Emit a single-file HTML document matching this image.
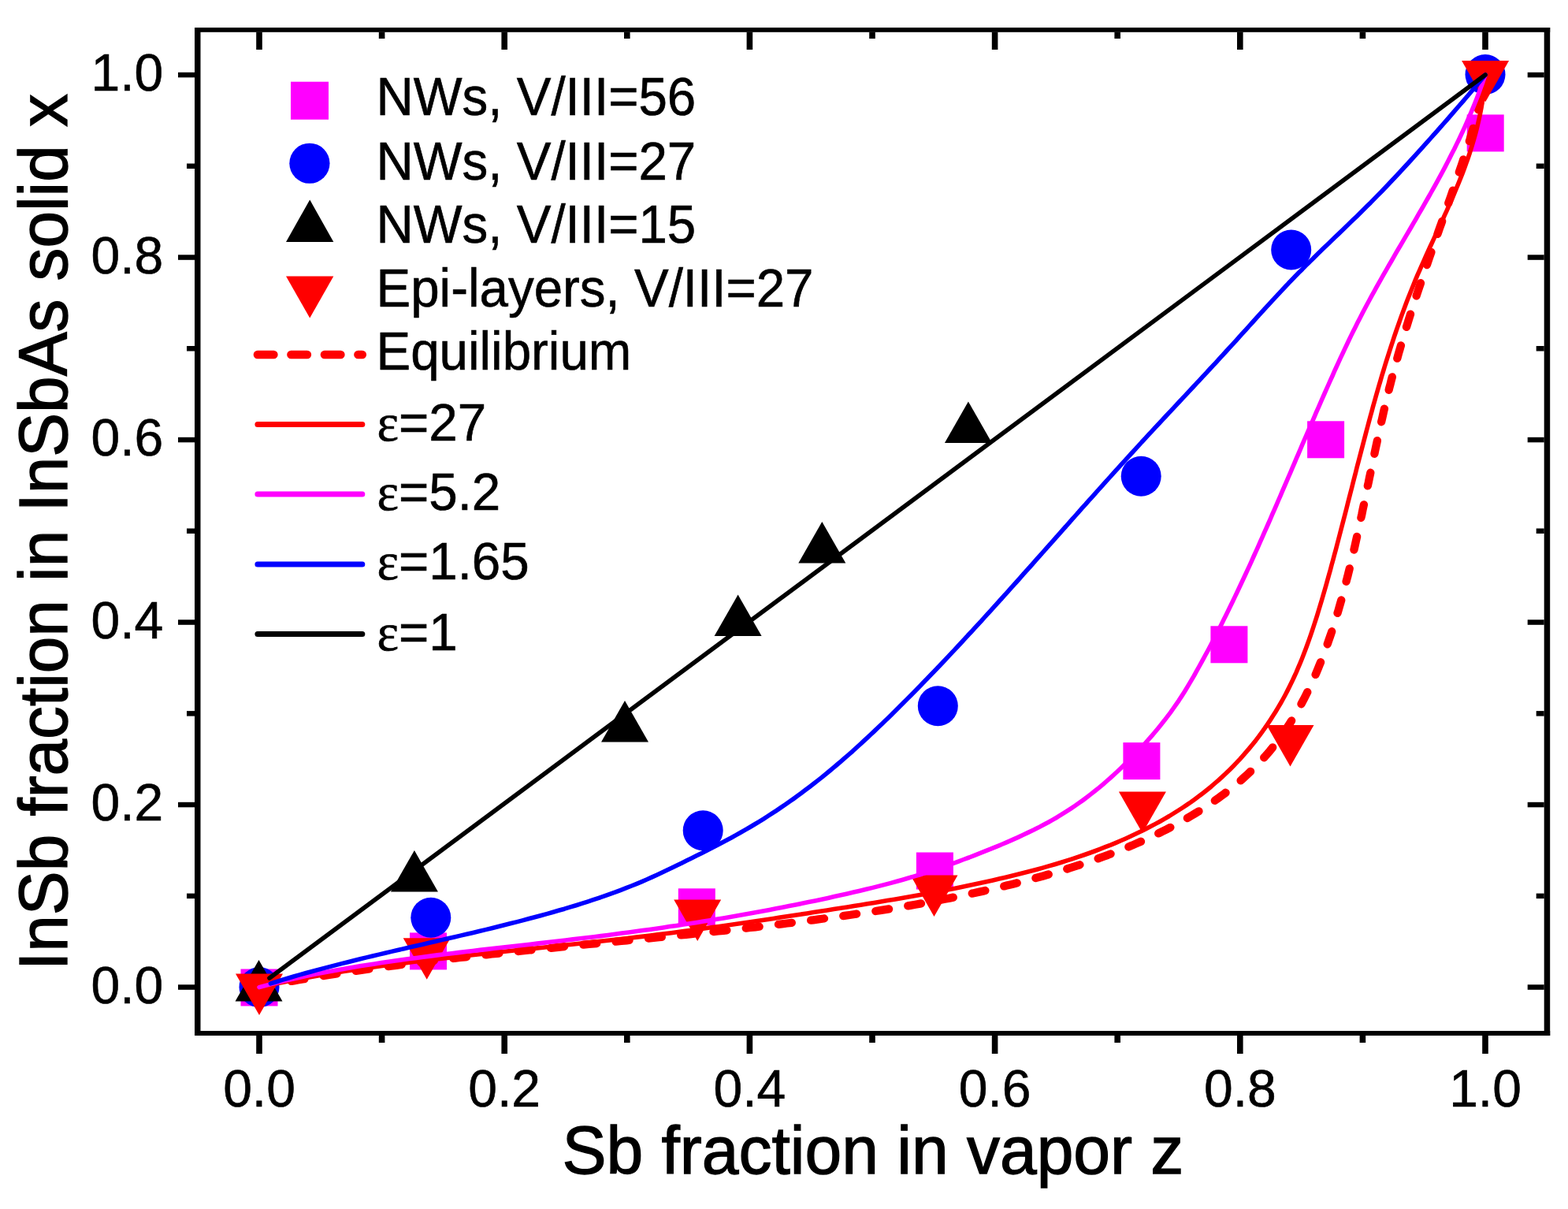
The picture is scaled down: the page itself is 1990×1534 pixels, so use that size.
<!DOCTYPE html><html><head><meta charset="utf-8"><style>html,body{margin:0;padding:0;background:#fff;}svg{display:block}</style></head><body>
<svg width="1990" height="1534" viewBox="0 0 1990 1534">
<rect width="1990" height="1534" fill="#fff"/>
<rect x="305.5" y="1229.5" width="47.0" height="47.0" fill="#ff00ff"/>
<rect x="520.0" y="1183.4" width="47.0" height="47.0" fill="#ff00ff"/>
<rect x="860.8" y="1127.3" width="47.0" height="47.0" fill="#ff00ff"/>
<rect x="1162.9" y="1081.5" width="47.0" height="47.0" fill="#ff00ff"/>
<rect x="1425.4" y="942.1" width="47.0" height="47.0" fill="#ff00ff"/>
<rect x="1536.4" y="794.3" width="47.0" height="47.0" fill="#ff00ff"/>
<rect x="1659.1" y="534.3" width="47.0" height="47.0" fill="#ff00ff"/>
<rect x="1861.7" y="145.4" width="47.0" height="47.0" fill="#ff00ff"/>
<circle cx="329.0" cy="1252.6" r="25.5" fill="#0000ff"/>
<circle cx="546.8" cy="1164.2" r="25.5" fill="#0000ff"/>
<circle cx="892.2" cy="1053.8" r="25.5" fill="#0000ff"/>
<circle cx="1190.3" cy="895.8" r="25.5" fill="#0000ff"/>
<circle cx="1448.2" cy="604.2" r="25.5" fill="#0000ff"/>
<circle cx="1638.7" cy="317.0" r="25.5" fill="#0000ff"/>
<circle cx="1885.0" cy="94.5" r="25.5" fill="#0000ff"/>
<path d="M328.5 1218.0 L358.5 1270.5 L298.5 1270.5 Z" fill="#000"/>
<path d="M525.9 1079.0 L555.9 1131.5 L495.9 1131.5 Z" fill="#000"/>
<path d="M793.0 889.0 L823.0 941.5 L763.0 941.5 Z" fill="#000"/>
<path d="M936.6 754.6 L966.6 807.1 L906.6 807.1 Z" fill="#000"/>
<path d="M1043.3 661.9 L1073.3 714.4 L1013.3 714.4 Z" fill="#000"/>
<path d="M1228.9 509.5 L1258.9 562.0 L1198.9 562.0 Z" fill="#000"/>
<path d="M299.0 1235.4 L359.0 1235.4 L329.0 1287.9 Z" fill="#ff0000"/>
<path d="M511.7 1190.2 L571.7 1190.2 L541.7 1242.7 Z" fill="#ff0000"/>
<path d="M855.2 1141.6 L915.2 1141.6 L885.2 1194.1 Z" fill="#ff0000"/>
<path d="M1155.5 1110.4 L1215.5 1110.4 L1185.5 1162.9 Z" fill="#ff0000"/>
<path d="M1419.9 1004.5 L1479.9 1004.5 L1449.9 1057.0 Z" fill="#ff0000"/>
<path d="M1607.5 920.1 L1667.5 920.1 L1637.5 972.6 Z" fill="#ff0000"/>
<path d="M1855.1 77.1 L1915.1 77.1 L1885.1 129.6 Z" fill="#ff0000"/>
<g fill="none" stroke-linecap="round" stroke-linejoin="round">
<path d="M329.0 1252.6 L335.2 1251.4 L341.5 1250.2 L347.7 1249.0 L354.0 1247.8 L360.3 1246.7 L366.6 1245.5 L373.0 1244.4 L379.3 1243.3 L385.7 1242.2 L392.1 1241.1 L398.5 1240.1 L404.9 1239.0 L411.4 1238.0 L417.8 1237.0 L424.3 1236.0 L430.8 1235.0 L437.3 1234.0 L443.8 1233.0 L450.3 1232.0 L456.9 1231.1 L463.5 1230.2 L470.0 1229.2 L476.6 1228.3 L483.2 1227.4 L489.8 1226.5 L496.4 1225.6 L503.1 1224.8 L509.7 1223.9 L516.4 1223.1 L523.1 1222.2 L529.7 1221.4 L536.4 1220.6 L543.1 1219.7 L549.8 1218.9 L556.6 1218.1 L563.3 1217.3 L570.0 1216.6 L576.8 1215.8 L583.5 1215.0 L590.3 1214.3 L597.1 1213.5 L603.9 1212.8 L610.6 1212.0 L617.4 1211.3 L624.2 1210.5 L631.0 1209.8 L637.8 1209.1 L644.7 1208.4 L651.5 1207.7 L658.3 1207.0 L665.1 1206.2 L672.0 1205.5 L678.8 1204.9 L685.7 1204.2 L692.5 1203.5 L699.4 1202.8 L706.2 1202.1 L713.1 1201.4 L719.9 1200.7 L726.8 1200.1 L733.6 1199.4 L740.5 1198.7 L747.4 1198.0 L754.2 1197.4 L761.1 1196.7 L767.9 1196.0 L774.8 1195.3 L781.7 1194.7 L788.5 1194.0 L795.4 1193.3 L802.2 1192.6 L809.1 1192.0 L815.9 1191.3 L822.8 1190.6 L829.6 1189.9 L836.5 1189.2 L843.3 1188.6 L850.2 1187.9 L857.0 1187.2 L863.8 1186.5 L870.7 1185.8 L877.5 1185.1 L884.3 1184.4 L891.1 1183.7 L897.9 1182.9 L904.7 1182.2 L911.5 1181.5 L918.3 1180.8 L925.0 1180.0 L931.8 1179.3 L938.6 1178.5 L945.3 1177.8 L952.1 1177.0 L958.8 1176.3 L965.5 1175.5 L972.2 1174.7 L979.0 1173.9 L985.6 1173.1 L992.3 1172.3 L999.0 1171.5 L1005.7 1170.7 L1012.3 1169.8 L1019.0 1169.0 L1025.6 1168.2 L1032.2 1167.3 L1038.8 1166.4 L1045.4 1165.5 L1052.0 1164.7 L1058.6 1163.8 L1065.1 1162.8 L1071.7 1161.9 L1078.2 1161.0 L1084.7 1160.0 L1091.2 1159.1 L1097.7 1158.1 L1104.1 1157.1 L1110.6 1156.1 L1117.0 1155.1 L1123.4 1154.1 L1129.8 1153.1 L1136.2 1152.0 L1142.6 1151.0 L1148.9 1149.9 L1155.3 1148.8 L1161.6 1147.7 L1167.9 1146.6 L1174.1 1145.5 L1180.4 1144.3 L1186.6 1143.1 L1192.9 1142.0 L1199.1 1140.8 L1205.2 1139.6 L1211.4 1138.3 L1217.5 1137.1 L1223.6 1135.8 L1229.7 1134.5 L1235.8 1133.2 L1241.8 1131.9 L1247.9 1130.6 L1253.9 1129.2 L1259.8 1127.9 L1265.8 1126.5 L1271.7 1125.1 L1277.6 1123.6 L1283.5 1122.2 L1289.4 1120.7 L1295.2 1119.2 L1301.0 1117.7 L1306.8 1116.2 L1312.5 1114.6 L1318.3 1113.1 L1324.0 1111.5 L1329.6 1109.8 L1335.3 1108.2 L1340.9 1106.5 L1346.5 1104.9 L1352.1 1103.2 L1357.6 1101.4 L1363.1 1099.7 L1368.6 1097.9 L1374.0 1096.1 L1379.5 1094.3 L1384.8 1092.4 L1390.2 1090.6 L1395.5 1088.7 L1400.8 1086.7 L1406.1 1084.8 L1411.3 1082.8 L1416.5 1080.8 L1421.6 1078.8 L1426.7 1076.7 L1431.8 1074.7 L1436.9 1072.6 L1441.9 1070.4 L1446.8 1068.3 L1451.8 1066.1 L1456.7 1063.9 L1461.5 1061.6 L1466.3 1059.3 L1471.1 1057.0 L1475.8 1054.7 L1480.5 1052.3 L1485.2 1049.9 L1489.8 1047.5 L1494.4 1045.1 L1498.9 1042.6 L1503.4 1040.0 L1507.8 1037.5 L1512.2 1034.9 L1516.6 1032.3 L1520.9 1029.7 L1525.1 1027.0 L1529.3 1024.3 L1533.5 1021.5 L1537.6 1018.8 L1541.6 1015.9 L1545.7 1013.1 L1549.6 1010.2 L1553.5 1007.3 L1557.4 1004.4 L1561.2 1001.4 L1565.0 998.4 L1568.7 995.3 L1572.4 992.2 L1576.0 989.1 L1579.5 985.9 L1583.0 982.7 L1586.4 979.5 L1589.8 976.2 L1593.2 972.9 L1596.4 969.6 L1599.7 966.2 L1602.8 962.8 L1605.9 959.3 L1609.0 955.8 L1612.0 952.3 L1614.9 948.7 L1617.8 945.1 L1620.6 941.4 L1623.4 937.7 L1626.1 934.0 L1628.8 930.2 L1631.4 926.4 L1633.9 922.6 L1636.5 918.7 L1638.9 914.8 L1641.4 910.9 L1643.7 906.9 L1646.1 902.9 L1648.4 898.9 L1650.6 894.9 L1652.8 890.8 L1655.0 886.6 L1657.1 882.5 L1659.2 878.3 L1661.3 874.1 L1663.3 869.9 L1665.2 865.6 L1667.2 861.3 L1669.1 857.0 L1671.0 852.6 L1672.8 848.2 L1674.6 843.8 L1676.4 839.4 L1678.1 835.0 L1679.8 830.5 L1681.5 826.0 L1683.2 821.4 L1684.8 816.9 L1686.4 812.3 L1688.0 807.7 L1689.6 803.1 L1691.1 798.5 L1692.6 793.8 L1694.1 789.1 L1695.5 784.5 L1696.9 779.7 L1698.4 775.0 L1699.7 770.3 L1701.1 765.5 L1702.5 760.7 L1703.8 755.9 L1705.1 751.1 L1706.4 746.3 L1707.7 741.4 L1708.9 736.5 L1710.2 731.7 L1711.4 726.8 L1712.6 721.9 L1713.8 717.0 L1715.0 712.0 L1716.2 707.1 L1717.3 702.2 L1718.5 697.2 L1719.6 692.3 L1720.7 687.3 L1721.8 682.3 L1723.0 677.3 L1724.0 672.3 L1725.1 667.3 L1726.2 662.3 L1727.3 657.3 L1728.4 652.3 L1729.4 647.2 L1730.5 642.2 L1731.6 637.2 L1732.6 632.2 L1733.7 627.1 L1734.7 622.1 L1735.7 617.0 L1736.8 612.0 L1737.8 606.9 L1738.9 601.9 L1739.9 596.9 L1741.0 591.8 L1742.0 586.8 L1743.1 581.7 L1744.2 576.7 L1745.2 571.7 L1746.3 566.7 L1747.4 561.6 L1748.4 556.6 L1749.5 551.6 L1750.6 546.6 L1751.7 541.6 L1752.8 536.6 L1754.0 531.6 L1755.1 526.6 L1756.2 521.7 L1757.4 516.7 L1758.5 511.8 L1759.7 506.8 L1760.9 501.9 L1762.1 497.0 L1763.3 492.1 L1764.6 487.2 L1765.8 482.3 L1767.1 477.4 L1768.4 472.5 L1769.7 467.7 L1771.0 462.9 L1772.3 458.0 L1773.7 453.2 L1775.0 448.4 L1776.4 443.7 L1777.8 438.9 L1779.2 434.1 L1780.6 429.3 L1782.0 424.6 L1783.5 419.9 L1784.9 415.1 L1786.4 410.4 L1787.8 405.7 L1789.3 401.0 L1790.8 396.3 L1792.3 391.6 L1793.8 386.9 L1795.3 382.2 L1796.9 377.5 L1798.4 372.9 L1800.0 368.2 L1801.5 363.6 L1803.1 358.9 L1804.6 354.2 L1806.2 349.6 L1807.8 345.0 L1809.4 340.3 L1811.0 335.7 L1812.6 331.0 L1814.2 326.4 L1815.8 321.8 L1817.4 317.2 L1819.0 312.5 L1820.6 307.9 L1822.3 303.3 L1823.9 298.6 L1825.5 294.0 L1827.1 289.4 L1828.8 284.8 L1830.4 280.1 L1832.0 275.5 L1833.7 270.9 L1835.3 266.2 L1836.9 261.6 L1838.5 257.0 L1840.2 252.3 L1841.8 247.7 L1843.4 243.0 L1845.0 238.4 L1846.6 233.7 L1848.2 229.0 L1849.8 224.4 L1851.4 219.7 L1853.0 215.0 L1854.6 210.3 L1856.2 205.6 L1857.7 200.9 L1859.3 196.2 L1860.8 191.5 L1862.4 186.8 L1863.9 182.0 L1865.4 177.3 L1866.8 172.5 L1868.2 167.8 L1869.7 163.0 L1871.0 158.2 L1872.4 153.4 L1873.7 148.6 L1874.9 143.8 L1876.2 139.0 L1877.4 134.2 L1878.5 129.3 L1879.6 124.4 L1880.6 119.6 L1881.6 114.7 L1882.5 109.8 L1883.4 104.9 L1884.2 99.9 L1885.0 95.0" stroke="#ff0000" stroke-width="10.3" stroke-dasharray="17 24.5"/>
<path d="M329.0 1252.6 L336.8 1250.9 L344.8 1249.2 L352.8 1247.5 L360.8 1245.9 L369.0 1244.3 L377.1 1242.7 L385.4 1241.2 L393.7 1239.7 L402.1 1238.2 L410.5 1236.8 L419.0 1235.4 L427.5 1234.0 L436.1 1232.6 L444.8 1231.3 L453.4 1230.0 L462.2 1228.8 L470.9 1227.5 L479.7 1226.3 L488.6 1225.1 L497.5 1223.9 L506.4 1222.7 L515.4 1221.6 L524.3 1220.5 L533.4 1219.4 L542.4 1218.3 L551.5 1217.2 L560.6 1216.1 L569.7 1215.1 L578.8 1214.0 L587.9 1213.0 L597.1 1212.0 L606.3 1211.0 L615.5 1210.0 L624.7 1209.0 L633.9 1208.0 L643.1 1207.0 L652.3 1206.0 L661.5 1205.1 L670.7 1204.1 L679.9 1203.1 L689.1 1202.2 L698.3 1201.2 L707.5 1200.2 L716.7 1199.2 L725.9 1198.3 L735.1 1197.3 L744.2 1196.3 L753.3 1195.3 L762.4 1194.3 L771.5 1193.3 L780.6 1192.3 L789.6 1191.2 L798.6 1190.2 L807.6 1189.1 L816.5 1188.1 L825.4 1187.0 L834.3 1185.9 L843.1 1184.8 L851.9 1183.7 L860.7 1182.5 L869.5 1181.4 L878.2 1180.2 L886.9 1179.0 L895.6 1177.8 L904.3 1176.6 L912.9 1175.4 L921.5 1174.2 L930.1 1173.0 L938.7 1171.7 L947.3 1170.5 L955.9 1169.2 L964.4 1168.0 L973.0 1166.7 L981.5 1165.4 L990.0 1164.1 L998.6 1162.8 L1007.1 1161.5 L1015.6 1160.2 L1024.1 1158.9 L1032.6 1157.6 L1041.1 1156.2 L1049.7 1154.9 L1058.2 1153.6 L1066.7 1152.2 L1075.3 1150.9 L1083.8 1149.5 L1092.3 1148.2 L1100.8 1146.8 L1109.4 1145.4 L1117.9 1144.0 L1126.4 1142.6 L1134.9 1141.2 L1143.4 1139.7 L1151.9 1138.2 L1160.3 1136.8 L1168.8 1135.2 L1177.2 1133.7 L1185.6 1132.2 L1194.0 1130.6 L1202.3 1129.0 L1210.7 1127.4 L1219.0 1125.7 L1227.2 1124.0 L1235.5 1122.3 L1243.7 1120.6 L1251.9 1118.8 L1260.0 1117.0 L1268.1 1115.1 L1276.2 1113.2 L1284.2 1111.3 L1292.2 1109.3 L1300.1 1107.3 L1307.9 1105.3 L1315.7 1103.2 L1323.4 1101.1 L1331.0 1098.9 L1338.6 1096.7 L1346.0 1094.5 L1353.4 1092.2 L1360.7 1089.8 L1368.0 1087.4 L1375.1 1085.0 L1382.2 1082.5 L1389.1 1080.0 L1396.0 1077.4 L1402.8 1074.7 L1409.6 1072.1 L1416.2 1069.3 L1422.8 1066.5 L1429.2 1063.7 L1435.6 1060.8 L1441.9 1057.8 L1448.2 1054.8 L1454.3 1051.7 L1460.4 1048.6 L1466.4 1045.4 L1472.3 1042.2 L1478.1 1038.9 L1483.9 1035.5 L1489.5 1032.0 L1495.1 1028.5 L1500.6 1025.0 L1506.0 1021.4 L1511.4 1017.7 L1516.6 1013.9 L1521.8 1010.1 L1526.9 1006.2 L1531.9 1002.2 L1536.9 998.2 L1541.7 994.0 L1546.5 989.9 L1551.2 985.6 L1555.8 981.3 L1560.3 976.9 L1564.8 972.4 L1569.2 967.9 L1573.5 963.3 L1577.7 958.6 L1581.8 953.9 L1585.9 949.1 L1589.9 944.3 L1593.8 939.4 L1597.6 934.4 L1601.3 929.3 L1605.0 924.2 L1608.5 919.1 L1612.0 913.9 L1615.4 908.6 L1618.8 903.3 L1622.0 897.9 L1625.2 892.5 L1628.3 887.0 L1631.3 881.5 L1634.2 875.9 L1637.0 870.2 L1639.8 864.6 L1642.5 858.8 L1645.1 853.1 L1647.6 847.2 L1650.1 841.4 L1652.5 835.5 L1654.8 829.5 L1657.1 823.5 L1659.3 817.5 L1661.5 811.4 L1663.6 805.3 L1665.7 799.2 L1667.7 793.0 L1669.7 786.8 L1671.7 780.6 L1673.6 774.3 L1675.5 768.0 L1677.4 761.7 L1679.2 755.4 L1681.1 749.0 L1682.9 742.7 L1684.7 736.2 L1686.5 729.8 L1688.3 723.4 L1690.0 716.9 L1691.8 710.4 L1693.5 704.0 L1695.3 697.5 L1697.0 690.9 L1698.7 684.4 L1700.4 677.9 L1702.1 671.3 L1703.8 664.8 L1705.5 658.2 L1707.2 651.7 L1708.9 645.1 L1710.5 638.6 L1712.2 632.0 L1713.9 625.4 L1715.6 618.9 L1717.2 612.3 L1718.9 605.8 L1720.6 599.3 L1722.2 592.7 L1723.9 586.2 L1725.6 579.7 L1727.3 573.2 L1729.0 566.7 L1730.7 560.2 L1732.4 553.8 L1734.1 547.3 L1735.8 540.9 L1737.5 534.5 L1739.2 528.1 L1741.0 521.7 L1742.7 515.3 L1744.5 508.9 L1746.3 502.6 L1748.1 496.2 L1749.9 489.9 L1751.8 483.6 L1753.6 477.3 L1755.5 471.1 L1757.4 464.8 L1759.3 458.6 L1761.3 452.3 L1763.3 446.1 L1765.3 439.9 L1767.3 433.8 L1769.3 427.6 L1771.4 421.5 L1773.5 415.3 L1775.7 409.2 L1777.8 403.1 L1780.0 397.1 L1782.3 391.0 L1784.5 385.0 L1786.8 379.0 L1789.2 373.0 L1791.6 367.0 L1794.0 361.1 L1796.4 355.1 L1798.9 349.2 L1801.5 343.3 L1804.1 337.4 L1806.7 331.6 L1809.3 325.7 L1811.9 319.9 L1814.6 314.0 L1817.3 308.2 L1820.0 302.4 L1822.7 296.5 L1825.4 290.7 L1828.1 284.9 L1830.8 279.0 L1833.4 273.2 L1836.1 267.3 L1838.7 261.4 L1841.3 255.5 L1843.9 249.6 L1846.4 243.6 L1848.9 237.7 L1851.4 231.7 L1853.8 225.6 L1856.2 219.6 L1858.5 213.5 L1860.7 207.3 L1862.9 201.2 L1865.0 195.0 L1867.0 188.7 L1868.9 182.4 L1870.8 176.0 L1872.6 169.6 L1874.2 163.2 L1875.8 156.6 L1877.3 150.1 L1878.7 143.4 L1880.0 136.7 L1881.1 130.0 L1882.1 123.1 L1883.0 116.2 L1883.8 109.2 L1884.5 102.1 L1885.0 95.0" stroke="#ff0000" stroke-width="5.6"/>
<path d="M329.0 1252.6 L336.5 1250.6 L344.1 1248.6 L351.8 1246.7 L359.6 1244.8 L367.5 1243.0 L375.4 1241.2 L383.4 1239.4 L391.5 1237.8 L399.6 1236.1 L407.8 1234.5 L416.1 1232.9 L424.4 1231.4 L432.8 1229.9 L441.2 1228.4 L449.7 1227.0 L458.3 1225.6 L466.9 1224.2 L475.5 1222.9 L484.2 1221.6 L493.0 1220.3 L501.7 1219.0 L510.5 1217.8 L519.4 1216.6 L528.3 1215.4 L537.2 1214.2 L546.1 1213.1 L555.1 1211.9 L564.1 1210.8 L573.1 1209.7 L582.1 1208.6 L591.1 1207.5 L600.2 1206.5 L609.2 1205.4 L618.3 1204.4 L627.4 1203.3 L636.5 1202.3 L645.6 1201.2 L654.7 1200.2 L663.7 1199.2 L672.8 1198.2 L681.9 1197.1 L690.9 1196.1 L700.0 1195.0 L709.0 1194.0 L718.0 1193.0 L727.0 1191.9 L736.0 1190.8 L745.0 1189.7 L753.9 1188.7 L762.8 1187.6 L771.6 1186.4 L780.5 1185.3 L789.3 1184.1 L798.0 1183.0 L806.8 1181.8 L815.5 1180.6 L824.2 1179.4 L832.9 1178.2 L841.5 1176.9 L850.1 1175.6 L858.7 1174.4 L867.2 1173.1 L875.8 1171.7 L884.3 1170.4 L892.8 1169.0 L901.3 1167.7 L909.7 1166.3 L918.2 1164.9 L926.6 1163.4 L935.0 1162.0 L943.3 1160.5 L951.7 1159.0 L960.0 1157.5 L968.3 1156.0 L976.6 1154.4 L984.9 1152.8 L993.2 1151.2 L1001.5 1149.6 L1009.7 1148.0 L1018.0 1146.3 L1026.2 1144.6 L1034.4 1142.9 L1042.6 1141.2 L1050.8 1139.4 L1059.0 1137.6 L1067.1 1135.8 L1075.3 1134.0 L1083.4 1132.1 L1091.4 1130.2 L1099.4 1128.3 L1107.4 1126.4 L1115.2 1124.4 L1123.0 1122.4 L1130.7 1120.4 L1138.3 1118.3 L1145.7 1116.2 L1153.1 1114.0 L1160.4 1111.9 L1167.6 1109.7 L1174.7 1107.4 L1181.7 1105.1 L1188.7 1102.8 L1195.6 1100.4 L1202.5 1098.0 L1209.4 1095.6 L1216.2 1093.1 L1223.0 1090.5 L1229.9 1088.0 L1236.7 1085.3 L1243.5 1082.7 L1250.4 1079.9 L1257.3 1077.2 L1264.2 1074.3 L1271.1 1071.5 L1277.9 1068.6 L1284.7 1065.6 L1291.5 1062.6 L1298.1 1059.5 L1304.7 1056.4 L1311.3 1053.3 L1317.7 1050.1 L1323.9 1046.8 L1330.1 1043.5 L1336.1 1040.1 L1342.0 1036.7 L1347.7 1033.2 L1353.3 1029.7 L1358.8 1026.1 L1364.2 1022.5 L1369.5 1018.8 L1374.7 1015.1 L1379.8 1011.3 L1384.8 1007.4 L1389.7 1003.5 L1394.6 999.6 L1399.4 995.6 L1404.1 991.5 L1408.8 987.4 L1413.4 983.2 L1418.0 979.0 L1422.5 974.7 L1427.0 970.3 L1431.5 965.9 L1436.0 961.5 L1440.4 957.0 L1444.8 952.4 L1449.1 947.8 L1453.4 943.1 L1457.6 938.4 L1461.8 933.6 L1465.9 928.8 L1469.9 923.9 L1473.9 919.0 L1477.8 914.1 L1481.6 909.1 L1485.4 904.1 L1489.0 899.0 L1492.6 893.9 L1496.1 888.8 L1499.5 883.6 L1502.8 878.4 L1506.0 873.2 L1509.2 867.9 L1512.3 862.6 L1515.4 857.3 L1518.4 851.9 L1521.4 846.5 L1524.4 841.1 L1527.4 835.7 L1530.3 830.2 L1533.3 824.8 L1536.2 819.3 L1539.1 813.7 L1542.0 808.2 L1544.8 802.6 L1547.7 797.0 L1550.5 791.4 L1553.3 785.8 L1556.1 780.2 L1558.9 774.5 L1561.7 768.8 L1564.4 763.2 L1567.2 757.4 L1569.9 751.7 L1572.6 746.0 L1575.3 740.2 L1578.0 734.5 L1580.7 728.7 L1583.4 722.9 L1586.1 717.1 L1588.7 711.3 L1591.3 705.5 L1594.0 699.6 L1596.6 693.8 L1599.2 687.9 L1601.8 682.1 L1604.4 676.2 L1607.0 670.3 L1609.6 664.5 L1612.2 658.6 L1614.7 652.7 L1617.3 646.8 L1619.9 640.9 L1622.4 635.0 L1625.0 629.1 L1627.5 623.2 L1630.0 617.3 L1632.6 611.4 L1635.1 605.5 L1637.7 599.6 L1640.2 593.7 L1642.7 587.8 L1645.2 581.9 L1647.8 576.0 L1650.3 570.1 L1652.8 564.2 L1655.3 558.4 L1657.9 552.5 L1660.4 546.6 L1662.9 540.8 L1665.5 534.9 L1668.0 529.1 L1670.5 523.2 L1673.1 517.4 L1675.6 511.6 L1678.1 505.8 L1680.7 500.0 L1683.3 494.2 L1685.8 488.5 L1688.4 482.7 L1691.0 477.0 L1693.5 471.2 L1696.1 465.5 L1698.7 459.8 L1701.3 454.1 L1704.0 448.5 L1706.6 442.8 L1709.3 437.2 L1712.0 431.5 L1714.7 425.9 L1717.5 420.3 L1720.3 414.7 L1723.1 409.1 L1726.0 403.5 L1728.8 397.9 L1731.8 392.3 L1734.7 386.8 L1737.7 381.2 L1740.7 375.7 L1743.8 370.2 L1746.8 364.6 L1749.9 359.1 L1753.0 353.6 L1756.1 348.1 L1759.3 342.6 L1762.4 337.1 L1765.6 331.7 L1768.8 326.2 L1771.9 320.7 L1775.1 315.3 L1778.3 309.8 L1781.5 304.3 L1784.7 298.9 L1787.9 293.5 L1791.1 288.0 L1794.2 282.6 L1797.4 277.2 L1800.5 271.7 L1803.7 266.3 L1806.8 260.9 L1809.9 255.4 L1813.0 250.0 L1816.1 244.5 L1819.1 239.1 L1822.2 233.6 L1825.2 228.1 L1828.2 222.6 L1831.2 217.1 L1834.1 211.6 L1837.0 206.0 L1839.9 200.4 L1842.7 194.8 L1845.6 189.2 L1848.3 183.6 L1851.1 177.9 L1853.8 172.2 L1856.5 166.5 L1859.1 160.8 L1861.7 155.0 L1864.2 149.2 L1866.7 143.3 L1869.2 137.4 L1871.6 131.5 L1874.0 125.5 L1876.3 119.5 L1878.5 113.4 L1880.8 107.3 L1882.9 101.2 L1885.0 95.0" stroke="#ff00ff" stroke-width="5.6"/>
<path d="M343.4 1247.9 L350.6 1245.7 L357.9 1243.4 L365.3 1241.2 L372.7 1239.0 L380.2 1236.9 L387.7 1234.8 L395.3 1232.7 L402.9 1230.6 L410.6 1228.6 L418.3 1226.6 L426.0 1224.6 L433.7 1222.6 L441.5 1220.7 L449.3 1218.7 L457.2 1216.8 L465.0 1214.9 L472.9 1213.0 L480.8 1211.1 L488.8 1209.3 L496.7 1207.4 L504.7 1205.5 L512.6 1203.7 L520.6 1201.8 L528.6 1200.0 L536.6 1198.2 L544.6 1196.3 L552.5 1194.5 L560.5 1192.6 L568.5 1190.8 L576.5 1189.0 L584.4 1187.1 L592.4 1185.2 L600.3 1183.4 L608.3 1181.5 L616.2 1179.6 L624.1 1177.7 L631.9 1175.7 L639.8 1173.8 L647.6 1171.8 L655.4 1169.9 L663.1 1167.9 L670.8 1165.8 L678.5 1163.8 L686.1 1161.7 L693.8 1159.6 L701.3 1157.5 L708.8 1155.3 L716.3 1153.2 L723.7 1150.9 L731.1 1148.7 L738.4 1146.4 L745.7 1144.1 L752.9 1141.7 L760.0 1139.3 L767.1 1136.9 L774.1 1134.4 L781.1 1131.9 L787.9 1129.3 L794.7 1126.7 L801.5 1124.0 L808.1 1121.3 L814.7 1118.6 L821.2 1115.8 L827.6 1112.9 L834.0 1110.0 L840.3 1107.0 L846.6 1104.0 L852.9 1101.0 L859.1 1098.0 L865.4 1094.9 L871.7 1091.8 L878.0 1088.7 L884.3 1085.6 L890.6 1082.4 L896.9 1079.2 L903.2 1076.0 L909.5 1072.8 L915.7 1069.5 L921.8 1066.3 L928.0 1063.0 L934.0 1059.6 L940.0 1056.3 L945.9 1052.9 L951.8 1049.5 L957.6 1046.0 L963.3 1042.6 L969.0 1039.1 L974.5 1035.5 L980.1 1031.9 L985.6 1028.3 L991.0 1024.7 L996.4 1021.0 L1001.7 1017.3 L1007.0 1013.6 L1012.2 1009.8 L1017.4 1006.0 L1022.6 1002.1 L1027.7 998.2 L1032.8 994.3 L1037.8 990.4 L1042.9 986.4 L1047.8 982.3 L1052.8 978.3 L1057.7 974.2 L1062.6 970.0 L1067.5 965.9 L1072.3 961.7 L1077.1 957.5 L1081.9 953.3 L1086.6 949.0 L1091.3 944.7 L1096.0 940.4 L1100.7 936.1 L1105.3 931.8 L1110.0 927.4 L1114.5 923.1 L1119.1 918.7 L1123.7 914.3 L1128.2 909.9 L1132.7 905.4 L1137.2 901.0 L1141.7 896.6 L1146.2 892.1 L1150.6 887.6 L1155.0 883.2 L1159.5 878.7 L1163.9 874.2 L1168.3 869.7 L1172.6 865.2 L1177.0 860.7 L1181.3 856.2 L1185.7 851.7 L1190.0 847.2 L1194.3 842.7 L1198.6 838.2 L1202.9 833.6 L1207.1 829.1 L1211.4 824.6 L1215.7 820.0 L1219.9 815.5 L1224.1 810.9 L1228.3 806.3 L1232.6 801.8 L1236.8 797.2 L1241.0 792.6 L1245.2 788.1 L1249.3 783.5 L1253.5 778.9 L1257.7 774.3 L1261.9 769.7 L1266.0 765.1 L1270.2 760.5 L1274.3 755.9 L1278.5 751.3 L1282.6 746.7 L1286.7 742.1 L1290.9 737.5 L1295.0 732.9 L1299.1 728.2 L1303.2 723.6 L1307.4 719.0 L1311.5 714.4 L1315.6 709.7 L1319.7 705.1 L1323.8 700.5 L1327.9 695.8 L1332.1 691.2 L1336.2 686.6 L1340.3 681.9 L1344.4 677.3 L1348.5 672.6 L1352.7 668.0 L1356.8 663.3 L1360.9 658.7 L1365.1 654.0 L1369.2 649.4 L1373.3 644.7 L1377.5 640.1 L1381.6 635.4 L1385.8 630.8 L1390.0 626.1 L1394.1 621.5 L1398.3 616.8 L1402.5 612.2 L1406.7 607.5 L1410.9 602.9 L1415.1 598.2 L1419.3 593.6 L1423.5 588.9 L1427.7 584.3 L1432.0 579.6 L1436.2 575.0 L1440.5 570.3 L1444.8 565.7 L1449.0 561.0 L1453.3 556.4 L1457.6 551.7 L1461.9 547.1 L1466.2 542.4 L1470.6 537.8 L1474.9 533.2 L1479.2 528.5 L1483.5 523.9 L1487.8 519.3 L1492.2 514.6 L1496.5 510.0 L1500.8 505.4 L1505.1 500.8 L1509.5 496.1 L1513.8 491.5 L1518.1 486.9 L1522.4 482.3 L1526.7 477.7 L1531.0 473.1 L1535.2 468.5 L1539.5 463.9 L1543.8 459.3 L1548.0 454.7 L1552.2 450.1 L1556.4 445.5 L1560.6 440.9 L1564.8 436.4 L1569.0 431.8 L1573.1 427.2 L1577.2 422.7 L1581.4 418.1 L1585.5 413.5 L1589.6 409.0 L1593.7 404.4 L1597.8 399.9 L1601.9 395.4 L1606.0 390.8 L1610.2 386.3 L1614.3 381.8 L1618.5 377.3 L1622.7 372.8 L1626.9 368.3 L1631.2 363.8 L1635.4 359.3 L1639.8 354.8 L1644.1 350.3 L1648.5 345.8 L1653.0 341.4 L1657.4 336.9 L1661.9 332.4 L1666.5 328.0 L1671.0 323.5 L1675.6 319.1 L1680.2 314.6 L1684.8 310.2 L1689.4 305.8 L1694.0 301.3 L1698.7 296.9 L1703.3 292.4 L1707.9 288.0 L1712.5 283.6 L1717.1 279.1 L1721.7 274.7 L1726.2 270.2 L1730.7 265.8 L1735.2 261.3 L1739.7 256.9 L1744.1 252.4 L1748.5 247.9 L1752.9 243.5 L1757.2 239.0 L1761.5 234.5 L1765.7 230.0 L1770.0 225.5 L1774.2 221.0 L1778.4 216.5 L1782.5 212.0 L1786.7 207.5 L1790.8 203.0 L1795.0 198.4 L1799.1 193.9 L1803.2 189.3 L1807.4 184.7 L1811.5 180.1 L1815.6 175.5 L1819.7 170.9 L1823.8 166.3 L1827.9 161.7 L1832.0 157.0 L1836.1 152.3 L1840.2 147.6 L1844.3 142.9 L1848.3 138.2 L1852.4 133.5 L1856.5 128.8 L1860.6 124.0 L1864.7 119.2 L1868.7 114.4 L1872.8 109.6 L1876.9 104.7 L1880.9 99.9 L1885.0 95.0" stroke="#0000ff" stroke-width="5.6"/>
<path d="M342 1241 L1885 95" stroke="#000" stroke-width="5.6"/>
</g>
<g fill="#000">
<rect x="247" y="35" width="7.5" height="1279"/>
<rect x="1959.7" y="35" width="7.5" height="1279"/>
<rect x="247" y="35" width="1720.2" height="5.8"/>
<rect x="247" y="1308" width="1720.2" height="6"/>
<rect x="325.2" y="1314" width="7.6" height="23"/>
<rect x="325.2" y="40.5" width="7.6" height="22.5"/>
<rect x="480.8" y="1314" width="7.6" height="9"/>
<rect x="480.8" y="40.5" width="7.6" height="8.5"/>
<rect x="636.4" y="1314" width="7.6" height="23"/>
<rect x="636.4" y="40.5" width="7.6" height="22.5"/>
<rect x="792.0" y="1314" width="7.6" height="9"/>
<rect x="792.0" y="40.5" width="7.6" height="8.5"/>
<rect x="947.6" y="1314" width="7.6" height="23"/>
<rect x="947.6" y="40.5" width="7.6" height="22.5"/>
<rect x="1103.2" y="1314" width="7.6" height="9"/>
<rect x="1103.2" y="40.5" width="7.6" height="8.5"/>
<rect x="1258.8" y="1314" width="7.6" height="23"/>
<rect x="1258.8" y="40.5" width="7.6" height="22.5"/>
<rect x="1414.4" y="1314" width="7.6" height="9"/>
<rect x="1414.4" y="40.5" width="7.6" height="8.5"/>
<rect x="1570.0" y="1314" width="7.6" height="23"/>
<rect x="1570.0" y="40.5" width="7.6" height="22.5"/>
<rect x="1725.6" y="1314" width="7.6" height="9"/>
<rect x="1725.6" y="40.5" width="7.6" height="8.5"/>
<rect x="1881.2" y="1314" width="7.6" height="23"/>
<rect x="1881.2" y="40.5" width="7.6" height="22.5"/>
<rect x="226.0" y="1249.3" width="21" height="6.5"/>
<rect x="1938.7" y="1249.3" width="21" height="6.5"/>
<rect x="237.0" y="1133.6" width="10" height="6.5"/>
<rect x="1949.7" y="1133.6" width="10" height="6.5"/>
<rect x="226.0" y="1017.8" width="21" height="6.5"/>
<rect x="1938.7" y="1017.8" width="21" height="6.5"/>
<rect x="237.0" y="902.1" width="10" height="6.5"/>
<rect x="1949.7" y="902.1" width="10" height="6.5"/>
<rect x="226.0" y="786.3" width="21" height="6.5"/>
<rect x="1938.7" y="786.3" width="21" height="6.5"/>
<rect x="237.0" y="670.5" width="10" height="6.5"/>
<rect x="1949.7" y="670.5" width="10" height="6.5"/>
<rect x="226.0" y="554.8" width="21" height="6.5"/>
<rect x="1938.7" y="554.8" width="21" height="6.5"/>
<rect x="237.0" y="439.0" width="10" height="6.5"/>
<rect x="1949.7" y="439.0" width="10" height="6.5"/>
<rect x="226.0" y="323.3" width="21" height="6.5"/>
<rect x="1938.7" y="323.3" width="21" height="6.5"/>
<rect x="237.0" y="207.5" width="10" height="6.5"/>
<rect x="1949.7" y="207.5" width="10" height="6.5"/>
<rect x="226.0" y="91.8" width="21" height="6.5"/>
<rect x="1938.7" y="91.8" width="21" height="6.5"/>
</g>
<g font-family="'Liberation Sans', Arial, sans-serif" font-size="66" fill="#000" stroke="#000" stroke-width="0.6">
<text x="207.3" y="1272.6" text-anchor="end">0.0</text>
<text x="207.3" y="1041.1" text-anchor="end">0.2</text>
<text x="207.3" y="809.6" text-anchor="end">0.4</text>
<text x="207.3" y="578.0" text-anchor="end">0.6</text>
<text x="207.3" y="346.5" text-anchor="end">0.8</text>
<text x="207.3" y="115.0" text-anchor="end">1.0</text>
<text x="329.0" y="1403.6" text-anchor="middle">0.0</text>
<text x="640.2" y="1403.6" text-anchor="middle">0.2</text>
<text x="951.4" y="1403.6" text-anchor="middle">0.4</text>
<text x="1262.6" y="1403.6" text-anchor="middle">0.6</text>
<text x="1573.8" y="1403.6" text-anchor="middle">0.8</text>
<text x="1885.0" y="1403.6" text-anchor="middle">1.0</text>
</g>
<text transform="translate(1107.9 1488.6) scale(1 1.02)" text-anchor="middle" font-family="'Liberation Sans', Arial, sans-serif" font-size="84" fill="#000" stroke="#000" stroke-width="1.3">Sb fraction in vapor z</text>
<text transform="translate(85.4 675.1) rotate(-90) scale(1 1.03)" x="0" y="0" text-anchor="middle" font-family="'Liberation Sans', Arial, sans-serif" font-size="83.7" fill="#000" stroke="#000" stroke-width="1.3">InSb fraction in InSbAs solid x</text>
<g font-family="'Liberation Sans', Arial, sans-serif" font-size="65.5" fill="#000">
<rect x="369" y="103.7" width="48" height="48" fill="#ff00ff"/>
<circle cx="392.9" cy="207.25" r="25.6" fill="#0000ff"/>
<path d="M393.2 253.4 L423.3 306.9 L363 306.9 Z" fill="#000"/>
<path d="M363 350.6 L423.3 350.6 L393.2 403.4 Z" fill="#ff0000"/>
<path d="M326.9 450 L459.8 450" stroke="#ff0000" stroke-width="10.5" stroke-linecap="round" stroke-dasharray="20.5 22" fill="none"/>
<path d="M326.9 538.4 L459.8 538.4" stroke="#ff0000" stroke-width="7" stroke-linecap="round" fill="none"/>
<path d="M326.9 627.0 L459.8 627.0" stroke="#ff00ff" stroke-width="7" stroke-linecap="round" fill="none"/>
<path d="M326.9 716.0 L459.8 716.0" stroke="#0000ff" stroke-width="7" stroke-linecap="round" fill="none"/>
<path d="M326.9 804.5 L459.8 804.5" stroke="#000" stroke-width="7" stroke-linecap="round" fill="none"/>
<text transform="translate(477.5 145.8) scale(1 1.045)" stroke="#000" stroke-width="0.6">NWs, V/III=56</text>
<text transform="translate(477.5 227.6) scale(1 1.045)" stroke="#000" stroke-width="0.6">NWs, V/III=27</text>
<text transform="translate(477.5 308.1) scale(1 1.045)" stroke="#000" stroke-width="0.6">NWs, V/III=15</text>
<text transform="translate(477.5 389.3) scale(1 1.045)" stroke="#000" stroke-width="0.6">Epi-layers, V/III=27</text>
<text transform="translate(477.5 469.2) scale(1 1.045)" stroke="#000" stroke-width="0.6">Equilibrium</text>
<text transform="translate(478.5 559.3) scale(1 1.03)" stroke="#000" stroke-width="0.6"><tspan font-family="'Liberation Serif', 'Times New Roman', serif">ε</tspan>=27</text>
<text transform="translate(478.5 646.7) scale(1 1.03)" stroke="#000" stroke-width="0.6"><tspan font-family="'Liberation Serif', 'Times New Roman', serif">ε</tspan>=5.2</text>
<text transform="translate(478.5 735.0) scale(1 1.03)" stroke="#000" stroke-width="0.6"><tspan font-family="'Liberation Serif', 'Times New Roman', serif">ε</tspan>=1.65</text>
<text transform="translate(478.5 824.9) scale(1 1.03)" stroke="#000" stroke-width="0.6"><tspan font-family="'Liberation Serif', 'Times New Roman', serif">ε</tspan>=1</text>
</g>
</svg></body></html>
